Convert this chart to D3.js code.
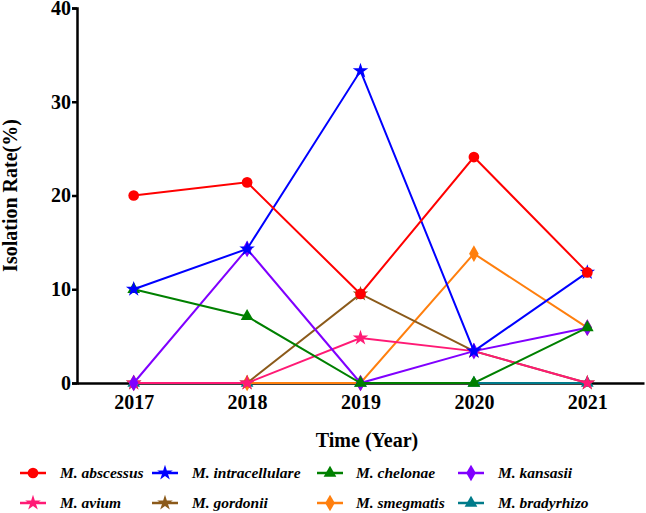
<!DOCTYPE html>
<html>
<head>
<meta charset="utf-8">
<script src="https://cdn.jsdelivr.net/npm/d3@7"></script>
<style>
  body { margin: 0; background: #fff; }
  #fig text { font-family: 'Liberation Serif' !important; font-weight: bold; }
</style>
</head>
<body>
<svg id="fig" width="646" height="513"></svg>
<script>
const years = [2017, 2018, 2019, 2020, 2021];
const yTicks = [0, 10, 20, 30, 40];

const abscessus = [20.0, 21.4, 9.5, 24.1, 11.8];
const intracellulare = [10.0, 14.3, 33.3, 3.4, 11.8];
const chelonae = [10.0, 7.1, 0, 0, 5.9];
const kansasii = [0, 14.3, 0, 3.4, 5.9];
const avium = [0, 0, 4.8, 3.4, 0];
const gordonii = [0, 0, 9.5, 3.4, 0];
const smegmatis = [0, 0, 0, 13.8, 5.9];
const bradyrhizo = [0, 0, 0, 0, 0];

const seriesNames = ["M. abscessus", "M. intracellulare", "M. chelonae", "M. kansasii",
                     "M. avium", "M. gordonii", "M. smegmatis", "M. bradyrhizo"];
const seriesValues = [abscessus, intracellulare, chelonae, kansasii, avium, gordonii, smegmatis, bradyrhizo];
const seriesColors = ["#ff0000", "#0000ff", "#008000", "#8000ff", "#ff1a75", "#8b5a1a", "#ff7f0e", "#007b8a"];
const seriesShapes = ["circle", "star", "triangle", "diamond", "star", "star", "diamond", "triangle"];

const FONT = "'Liberation Serif'";

const svg = d3.select("#fig");

const x = d3.scaleLinear().domain([2016.5, 2021.5]).range([77, 644]);
const y = d3.scaleLinear().domain([0, 40]).range([383, 8]);

const symbolType = {
    circle: d3.symbolCircle,
    star: d3.symbolStar,
    triangle: d3.symbolTriangle,
    diamond: d3.symbolDiamond
};
const symbolSize = { circle: 90, star: 75, triangle: 70, diamond: 80 };

function symbolPath(shape) {
    return d3.symbol().type(symbolType[shape]).size(symbolSize[shape])();
}

function serif(sel, size) {
    sel.style("font-family", FONT, "important")
        .style("font-weight", "bold")
        .style("font-size", size + "px");
}

const data = seriesNames.map((name, i) => ({
    name: name,
    color: seriesColors[i],
    shape: seriesShapes[i],
    points: years.map((yr, j) => ({ year: yr, value: seriesValues[i][j] }))
}));

// axes
const yAxis = svg.append("g")
    .attr("transform", `translate(${x.range()[0]},0)`)
    .call(d3.axisLeft(y).tickValues(yTicks).tickSize(5).tickPadding(1));
yAxis.attr("font-family", null);
yAxis.select(".domain").attr("stroke-width", 2.5);
yAxis.selectAll(".tick line").attr("stroke-width", 2.5);
yAxis.selectAll(".tick text").call(serif, 20).attr("fill", "#000");

const xAxis = svg.append("g")
    .attr("transform", `translate(0,${y(0)})`)
    .call(d3.axisBottom(x).tickValues(years).tickFormat(d3.format("d")).tickSize(0).tickPadding(12));
xAxis.attr("font-family", null);
xAxis.select(".domain").attr("stroke-width", 2.5);
xAxis.selectAll(".tick text").call(serif, 20).attr("fill", "#000");

// lines, drawn last series first so the first one sits on top
const line = d3.line().x(d => x(d.year)).y(d => y(d.value));
const plotted = data.slice().reverse();

const groups = svg.append("g").selectAll("g")
    .data(plotted)
    .join("g");

groups.append("path")
    .attr("d", d => line(d.points))
    .attr("fill", "none")
    .attr("stroke", d => d.color)
    .attr("stroke-width", 2);

groups.selectAll(".marker")
    .data(d => d.points.map(p => ({ ...p, color: d.color, shape: d.shape })))
    .join("path")
    .attr("class", "marker")
    .attr("transform", d => `translate(${x(d.year)},${y(d.value)})`)
    .attr("d", d => symbolPath(d.shape))
    .attr("fill", d => d.color);

// axis titles
svg.append("text")
    .attr("transform", `translate(17,${(y(0) + y(40)) / 2}) rotate(-90)`)
    .attr("text-anchor", "middle")
    .call(serif, 20)
    .text("Isolation Rate(%)");

svg.append("text")
    .attr("x", 367)
    .attr("y", 447)
    .attr("text-anchor", "middle")
    .call(serif, 20)
    .text("Time (Year)");

// legend: [symbol start, text start] per column
const legendX = [[20, 60], [152, 192], [317, 356], [458, 498]];
const legendY = [473, 503];

const legend = svg.append("g").selectAll("g")
    .data(data)
    .join("g")
    .attr("transform", (d, i) => `translate(${legendX[i % 4][0]},${legendY[Math.floor(i / 4)]})`);

legend.append("line")
    .attr("x1", 0).attr("x2", 26)
    .attr("stroke", d => d.color)
    .attr("stroke-width", 2.5);

legend.append("path")
    .attr("transform", "translate(13,0)")
    .attr("d", d => symbolPath(d.shape))
    .attr("fill", d => d.color);

legend.append("text")
    .attr("x", (d, i) => legendX[i % 4][1] - legendX[i % 4][0])
    .attr("y", 5)
    .call(serif, 15.5)
    .style("font-style", "italic")
    .text(d => d.name);
</script>
</body>
</html>
